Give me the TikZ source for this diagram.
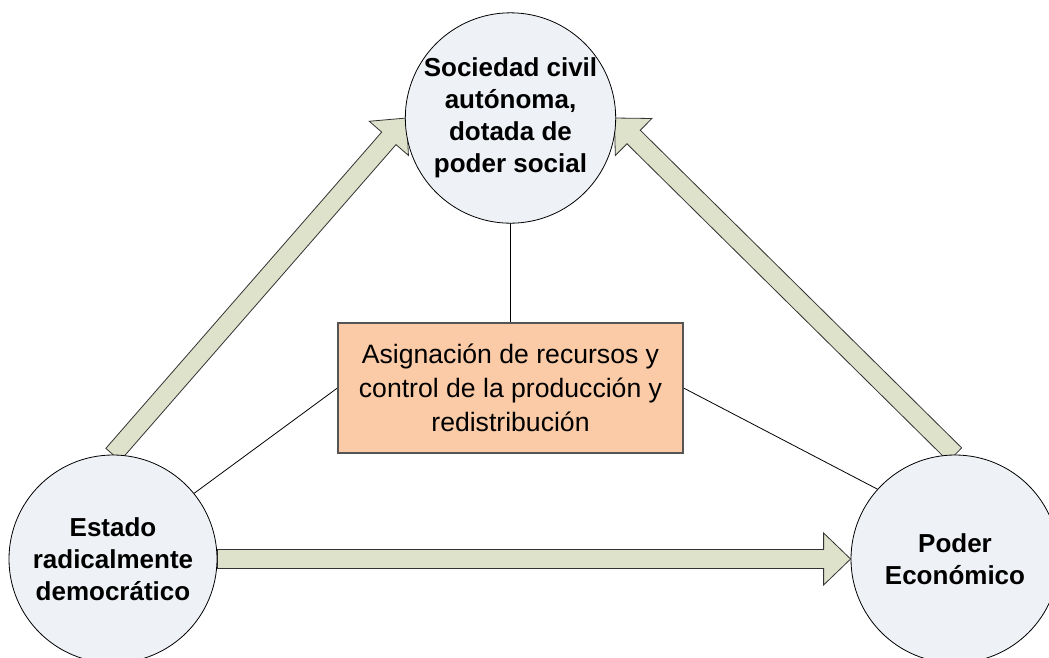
\documentclass[tikz,border=0pt]{standalone}
\usepackage{fontspec}
\setmainfont{Liberation Sans}
\usetikzlibrary{calc}
\definecolor{circfill}{HTML}{EEF1F6}
\definecolor{arrfill}{HTML}{DEE2CB}
\definecolor{boxfill}{HTML}{FACBA6}
\definecolor{boxline}{HTML}{555555}
\tikzset{
  circnode/.style={circle, draw=black, line width=0.8pt, fill=circfill, inner sep=0pt,
    minimum size=208pt, align=center, font=\fontsize{26}{32}\selectfont\bfseries},
  boxnode/.style={rectangle, draw=boxline, line width=1.2pt, fill=boxfill, inner sep=0pt,
    minimum width=345pt, minimum height=130pt, align=center, font=\fontsize{26.6}{34}\selectfont},
  barrow/.style={draw=black!80, line width=0.8pt, fill=arrfill, line join=miter},
  link/.style={draw=black, line width=0.8pt}
}
\newcommand\myblockarrow[2]{%
  \coordinate (ba-c) at ($(#2)!27pt!(#1)$);
  \path[barrow] ($(#1)!9.5pt!90:(#2)$) -- ($(ba-c)!9.5pt!90:(#2)$) -- ($(ba-c)!26pt!90:(#2)$)
    -- (#2) -- ($(ba-c)!26pt!-90:(#2)$) -- ($(ba-c)!9.5pt!-90:(#2)$) -- ($(#1)!9.5pt!-90:(#2)$) -- cycle;
}
\begin{document}
\begin{tikzpicture}[x=1pt,y=-1pt]
  \clip (0,0) rectangle (1049,657);
  \fill[white] (0,0) rectangle (1049,657);
  % invisible placeholders giving the anchors of the circles and the box
  \path (510.5,118) node[circnode, minimum size=207pt, draw=none, fill=none] (T0) {};
  \path (113,559) node[circnode, draw=none, fill=none] (L0) {};
  \path (955,559) node[circnode, draw=none, fill=none] (R0) {};
  \path (510.5,388) node[boxnode, draw=none, fill=none] (B0) {};
  % block arrows
  \myblockarrow{L0.north}{T0.west}
  \myblockarrow{R0.north}{T0.east}
  \myblockarrow{L0.east}{R0.west}
  % thin links
  \draw[link] (T0.south) -- (B0.north);
  \draw[link] (B0.west) -- (L0.39);
  \draw[link] (B0.east) -- (R0.138);
  % circles
  \node[circnode, minimum size=207pt] (T) at (510.5,118) {Sociedad civil\\autónoma,\\dotada de\\poder social};
  \node[circnode] (L) at (113,559) {Estado\\radicalmente\\democrático};
  \node[circnode] (R) at (955,559) {Poder\\Económico};
  % box
  \node[boxnode] (B) at (510.5,388) {Asignación de recursos y\\control de la producción y\\redistribución};
\end{tikzpicture}
\end{document}
